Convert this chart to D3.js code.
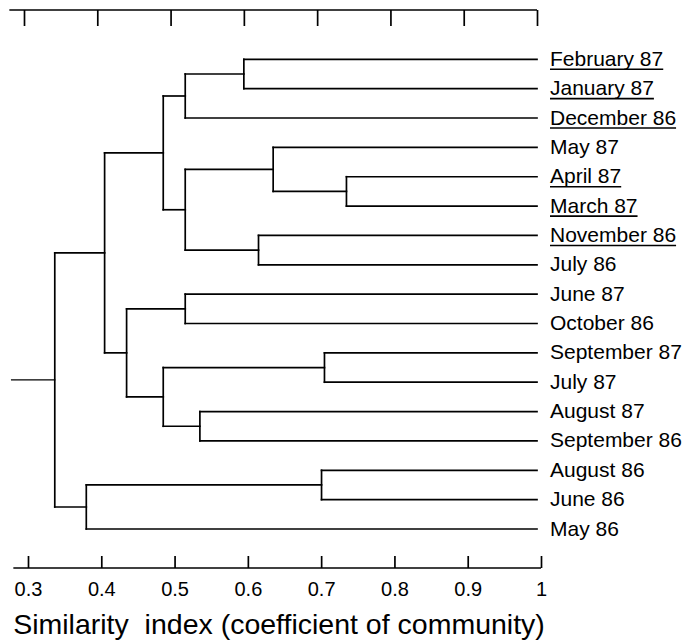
<!DOCTYPE html>
<html>
<head>
<meta charset="utf-8">
<script src="https://cdn.jsdelivr.net/npm/d3@7"></script>
<style>
  html, body { margin: 0; padding: 0; background: #fff; }
  svg { display: block; }
  text { font-family: "Liberation Sans", Arial, sans-serif; fill: #000; }
</style>
</head>
<body>
<svg id="chart" width="686" height="643"></svg>
<script>
// ---- data ----
const leaves = [
  "February 87", "January 87", "December 86", "May 87", "April 87", "March 87",
  "November 86", "July 86", "June 87", "October 86", "September 87", "July 87",
  "August 87", "September 86", "August 86", "June 86", "May 86"
];
const underlined = [
  true, true, true, false, true, true,
  true, false, false, false, false, false,
  false, false, false, false, false
];
// merges: [childA, childB, similarity]; ids < 17 are leaves, id 17+i is merge i
const mergeA = [0, 17, 4, 3, 6, 20, 18, 8, 10, 12, 25, 24, 23, 14, 30, 29];
const mergeB = [1, 2, 5, 19, 7, 21, 22, 9, 11, 13, 26, 27, 28, 15, 16, 31];
const mergeSim = [0.60, 0.52, 0.74, 0.64, 0.62, 0.52, 0.49, 0.52, 0.71, 0.54, 0.49, 0.44, 0.41, 0.706, 0.385, 0.342];
const leafSimilarity = 1;
const rootStubSimilarity = 0.283;
const axisStart = 0.28;
const tickValues = [0.3, 0.4, 0.5, 0.6, 0.7, 0.8, 0.9, 1];
const tickLabels = ["0.3", "0.4", "0.5", "0.6", "0.7", "0.8", "0.9", "1"];
const axisTitle = "Similarity  index (coefficient of community)";

// ---- scales ----
const svg = d3.select("#chart");
const xTop = d3.scaleLinear().domain([0.3, 1]).range([24, 537]);
const xBot = d3.scaleLinear().domain([0.3, 1]).range([28, 541]);
const y = d3.scaleLinear().domain([0, leaves.length - 1]).range([59.3, 529]);

const nLeaves = leaves.length;
const nodeY = [], nodeSim = [];
leaves.forEach((d, i) => { nodeY[i] = y(i); nodeSim[i] = leafSimilarity; });
mergeSim.forEach((s, i) => {
  const id = nLeaves + i;
  nodeY[id] = (nodeY[mergeA[i]] + nodeY[mergeB[i]]) / 2;
  nodeSim[id] = s;
});

const lines = svg.append("g")
  .attr("stroke", "#000").attr("stroke-width", 1.7)
  .attr("fill", "none").attr("stroke-linecap", "square");

mergeSim.forEach((s, i) => {
  const a = mergeA[i], b = mergeB[i];
  const px = xTop(s);
  lines.append("line").attr("x1", px).attr("x2", px)
    .attr("y1", nodeY[a]).attr("y2", nodeY[b]);
  [a, b].forEach(c => {
    lines.append("line").attr("x1", px).attr("x2", xTop(nodeSim[c]))
      .attr("y1", nodeY[c]).attr("y2", nodeY[c]);
  });
});
const rootId = nLeaves + mergeSim.length - 1;
lines.append("line")
  .attr("x1", xTop(rootStubSimilarity)).attr("x2", xTop(nodeSim[rootId]))
  .attr("y1", nodeY[rootId]).attr("y2", nodeY[rootId])
  .attr("stroke-width", 1.2);

// ---- leaf labels ----
const labelG = svg.append("g");
leaves.forEach((name, i) => {
  const tx = xTop(leafSimilarity) + 13;
  const ty = y(i) + 6.5;
  const t = labelG.append("text").attr("x", tx).attr("y", ty)
    .attr("font-size", 21).text(name);
  if (underlined[i]) {
    const w = t.node().getComputedTextLength();
    labelG.append("line").attr("x1", tx).attr("x2", tx + w)
      .attr("y1", ty + 3.5).attr("y2", ty + 3.5)
      .attr("stroke", "#000").attr("stroke-width", 1.6);
  }
});

// ---- top axis (ticks only) ----
const topAxis = svg.append("g").attr("transform", "translate(0,10)")
  .call(d3.axisBottom(xTop).tickValues(tickValues).tickSizeInner(16).tickSizeOuter(0).tickFormat(""));
topAxis.select(".domain").remove();
topAxis.selectAll(".tick line").attr("stroke", "#000").attr("stroke-width", 1.7);
topAxis.append("line").attr("x1", xTop(axisStart)).attr("x2", xTop(1))
  .attr("stroke", "#000").attr("stroke-width", 1.7);

// ---- bottom axis ----
const botAxis = svg.append("g").attr("transform", "translate(0,568)")
  .call(d3.axisBottom(xBot).tickValues(tickValues).tickSizeInner(-12).tickSizeOuter(0)
    .tickPadding(14).tickFormat((d, i) => tickLabels[i]));
botAxis.select(".domain").remove();
botAxis.selectAll(".tick line").attr("stroke", "#000").attr("stroke-width", 1.7);
botAxis.selectAll(".tick text").attr("font-size", 20).attr("fill", "#000")
  .attr("font-family", "'Liberation Sans', Arial, sans-serif");
botAxis.append("line").attr("x1", xBot(axisStart)).attr("x2", xBot(1))
  .attr("stroke", "#000").attr("stroke-width", 1.7);

// ---- axis title ----
svg.append("text").attr("x", 279).attr("y", 634)
  .attr("text-anchor", "middle").attr("font-size", 28.5)
  .style("white-space", "pre").text(axisTitle);
</script>
</body>
</html>
